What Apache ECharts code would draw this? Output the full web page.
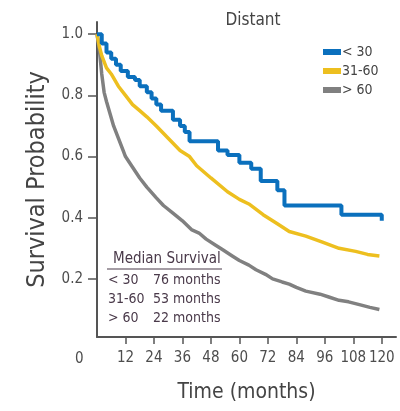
<!DOCTYPE html>
<html>
<head>
<meta charset="utf-8">
<script src="https://cdn.jsdelivr.net/npm/echarts@6/dist/echarts.min.js"></script>
<style>html,body{margin:0;padding:0;background:#fff}#c{width:400px;height:411px}</style>
</head>
<body>
<div id="c"></div>
<script>
var FONT = "'DejaVu Sans Condensed', 'Liberation Sans', Arial, sans-serif";
var seriesNames = ['< 30', '31-60', '> 60'];
var xTicks = [12, 24, 36, 48, 60, 72, 84, 96, 108, 120];
var yTicks = [0.2, 0.4, 0.6, 0.8, 1.0];
var under30 = [[0,1.0],[2,0.97],[4,0.94],[6,0.92],[8,0.90],[10,0.88],[13,0.86],[16,0.85],[18,0.83],[21,0.81],[23,0.79],[25,0.77],[27,0.75],[31,0.75],[32,0.72],[35,0.70],[37,0.68],[39,0.65],[51,0.62],[55,0.605],[60,0.58],[65,0.56],[69,0.52],[76,0.49],[79,0.44],[103,0.41],[120,0.39]];
var age31to60 = [[0,1.0],[1,0.96],[2,0.93],[4,0.89],[6,0.87],[9,0.83],[12,0.80],[15,0.77],[18,0.75],[21,0.73],[25,0.70],[30,0.66],[35,0.62],[39,0.60],[42,0.57],[48,0.53],[55,0.485],[60,0.46],[64,0.445],[70,0.41],[76,0.38],[81,0.355],[88,0.34],[95,0.32],[102,0.30],[109,0.29],[114,0.28],[119,0.275]];
var over60 = [[0,1.0],[1,0.95],[2,0.87],[3,0.81],[4,0.78],[5.5,0.74],[7,0.70],[9,0.66],[11,0.62],[12,0.60],[15,0.565],[18,0.53],[21,0.50],[25,0.465],[28,0.44],[32,0.415],[36,0.39],[40,0.36],[43,0.35],[46,0.33],[50,0.31],[53,0.295],[57,0.275],[60,0.26],[64,0.245],[67,0.23],[71,0.215],[74,0.20],[78,0.19],[81,0.183],[84,0.172],[88,0.16],[94,0.15],[98,0.14],[102,0.13],[106,0.125],[111,0.115],[115,0.107],[119,0.10]];
var medianGroups = ['< 30', '31-60', '> 60'];
var medianMonths = ['76 months', '53 months', '22 months'];

var chart = echarts.init(document.getElementById('c'), null, {renderer: 'canvas'});
var axisColor = '#555';
var tableColor = '#4a3a4a';
var graphics = [
  {type: 'text', left: 75, top: 352, style: {text: '0', font: '15px ' + FONT, fill: '#4d4d4d'}},
  {type: 'text', left: 113, top: 252, style: {text: 'Median Survival', font: '15px ' + FONT, fill: tableColor}},
  {type: 'line', shape: {x1: 107, y1: 269, x2: 222, y2: 269}, style: {stroke: tableColor, lineWidth: 1.2}}
];
medianGroups.forEach(function (g, i) {
  graphics.push({type: 'text', left: 108, top: 273 + i * 19, style: {text: g, font: '14px ' + FONT, fill: tableColor}});
  graphics.push({type: 'text', left: 153, top: 273 + i * 19, style: {text: medianMonths[i], font: '14px ' + FONT, fill: tableColor}});
});

chart.setOption({
  animation: false,
  backgroundColor: '#fff',
  title: {text: 'Distant', left: 248, top: 7, textAlign: 'center',
    textStyle: {fontFamily: FONT, fontSize: 17, fontWeight: 'normal', color: '#444'}},
  legend: {
    orient: 'vertical', left: 318, top: 40, itemWidth: 18, itemHeight: 6, itemGap: 5,
    icon: 'rect',
    data: seriesNames,
    textStyle: {fontFamily: FONT, fontSize: 14, color: '#444', padding: [0, 0, 0, -4]}
  },
  grid: {left: 97, right: 4, top: 22, bottom: 74, containLabel: false},
  xAxis: {
    type: 'value', min: 0, max: 126,
    name: 'Time (months)', nameLocation: 'middle', nameGap: 45,
    nameTextStyle: {fontFamily: FONT, fontSize: 21, color: '#444'},
    axisLine: {show: true, lineStyle: {color: axisColor, width: 2}},
    axisTick: {show: true, length: 7, customValues: xTicks, lineStyle: {color: axisColor, width: 1.5}},
    axisLabel: {customValues: xTicks, margin: 14, fontFamily: FONT, fontSize: 15, color: '#4d4d4d'},
    splitLine: {show: false}
  },
  yAxis: {
    type: 'value', min: 0.01, max: 1.04,
    name: 'Survival Probability', nameLocation: 'middle', nameGap: 47, nameRotate: 90,
    nameTextStyle: {fontFamily: FONT, fontSize: 25, color: '#444'},
    axisLine: {show: true, lineStyle: {color: axisColor, width: 2}},
    axisTick: {show: true, length: 9, customValues: yTicks, lineStyle: {color: axisColor, width: 1.5}},
    axisLabel: {customValues: yTicks, margin: 14, fontFamily: FONT, fontSize: 15, color: '#4d4d4d',
      formatter: function (v) { return v.toFixed(1); }},
    splitLine: {show: false}
  },
  graphic: graphics,
  series: [
    {name: seriesNames[0], type: 'line', step: 'end', data: under30, showSymbol: false,
      lineStyle: {color: '#0b70bd', width: 4}, itemStyle: {color: '#0b70bd'}, z: 4},
    {name: seriesNames[1], type: 'line', data: age31to60, showSymbol: false,
      lineStyle: {color: '#edbf1f', width: 3.5}, itemStyle: {color: '#edbf1f'}, z: 3},
    {name: seriesNames[2], type: 'line', data: over60, showSymbol: false,
      lineStyle: {color: '#808080', width: 3.5}, itemStyle: {color: '#808080'}, z: 2}
  ]
});
</script>
</body>
</html>
